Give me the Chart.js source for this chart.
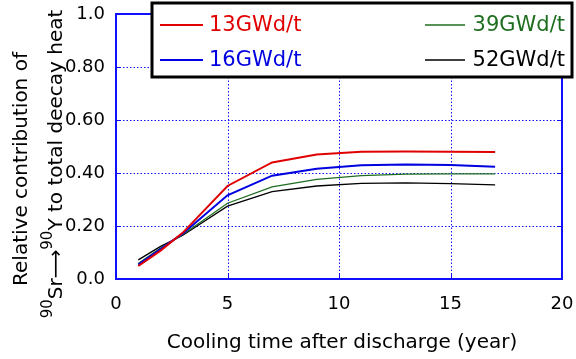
<!DOCTYPE html>
<html>
<head>
<meta charset="utf-8">
<script src="https://cdn.jsdelivr.net/npm/chart.js@4"></script>
<style>
  html, body { margin: 0; padding: 0; background: #ffffff; }
  #chart { display: block; }
</style>
</head>
<body>
<canvas id="chart" width="576" height="359"></canvas>
<script>
// Cooling time after discharge (years)
const coolingYears = [1, 2, 3, 5, 7, 9, 11, 13, 15, 17];

// Relative contribution of 90Sr->90Y to total decay heat, per burnup
const burnupLabels = ['13GWd/t', '16GWd/t', '39GWd/t', '52GWd/t'];
const burnup13 = [0.049, 0.107, 0.175, 0.351, 0.440, 0.470, 0.480, 0.481, 0.480, 0.479];
const burnup16 = [0.054, 0.113, 0.172, 0.316, 0.390, 0.416, 0.429, 0.432, 0.430, 0.424];
const burnup39 = [0.058, 0.117, 0.168, 0.286, 0.348, 0.376, 0.390, 0.396, 0.397, 0.397];
const burnup52 = [0.072, 0.123, 0.165, 0.275, 0.330, 0.351, 0.361, 0.363, 0.360, 0.355];

const yTickLabels = ['0.0', '0.20', '0.40', '0.60', '0.80', '1.0'];
const xTickLabels = ['0', '5', '10', '15', '20'];

const FONT = '"DejaVu Sans", "Liberation Sans", sans-serif';
const AXIS_BLUE = '#1010ff';

function toPoints(values) {
  return values.map((v, i) => ({ x: coolingYears[i], y: v }));
}

const seriesStyle = [
  { color: '#e00000', width: 2 },
  { color: '#0000e0', width: 2 },
  { color: '#1f6e1f', width: 1.3 },
  { color: '#000000', width: 1.3 }
];
const seriesValues = [burnup13, burnup16, burnup39, burnup52];

const datasets = seriesValues.map((vals, i) => ({
  label: burnupLabels[i],
  data: toPoints(vals),
  borderColor: seriesStyle[i].color,
  backgroundColor: seriesStyle[i].color,
  borderWidth: seriesStyle[i].width,
  pointRadius: 0,
  tension: 0,
  fill: false
}));

// Dotted grid drawn at the scale ticks, behind the curves
const dottedGrid = {
  id: 'dottedGrid',
  beforeDatasetsDraw(chart) {
    const { ctx, chartArea: a, scales } = chart;
    ctx.save();
    ctx.strokeStyle = AXIS_BLUE;
    ctx.lineWidth = 1;
    ctx.setLineDash([1.5, 2]);
    scales.y.ticks.forEach(t => {
      const py = Math.round(scales.y.getPixelForValue(t.value)) + 0.5;
      ctx.beginPath(); ctx.moveTo(a.left, py); ctx.lineTo(a.right, py); ctx.stroke();
    });
    scales.x.ticks.forEach(t => {
      const px = Math.round(scales.x.getPixelForValue(t.value)) + 0.5;
      ctx.beginPath(); ctx.moveTo(px, a.top); ctx.lineTo(px, a.bottom); ctx.stroke();
    });
    ctx.restore();
  }
};

// Frame, inward ticks, axis titles and the two-column legend
const decorations = {
  id: 'decorations',
  afterDatasetsDraw(chart) {
    const { ctx, chartArea: a, scales } = chart;
    ctx.save();

    // plot frame
    ctx.strokeStyle = AXIS_BLUE;
    ctx.lineWidth = 2;
    ctx.setLineDash([]);
    ctx.strokeRect(a.left, a.top, a.right - a.left, a.bottom - a.top);

    // small inward ticks on all four sides
    ctx.lineWidth = 1;
    const tl = 5;
    scales.y.ticks.forEach(t => {
      const py = Math.round(scales.y.getPixelForValue(t.value)) + 0.5;
      ctx.beginPath();
      ctx.moveTo(a.left, py); ctx.lineTo(a.left + tl, py);
      ctx.moveTo(a.right, py); ctx.lineTo(a.right - tl, py);
      ctx.stroke();
    });
    scales.x.ticks.forEach(t => {
      const px = Math.round(scales.x.getPixelForValue(t.value)) + 0.5;
      ctx.beginPath();
      ctx.moveTo(px, a.bottom); ctx.lineTo(px, a.bottom - tl);
      ctx.moveTo(px, a.top); ctx.lineTo(px, a.top + tl);
      ctx.stroke();
    });

    // x axis title
    ctx.fillStyle = '#000000';
    ctx.font = '20px ' + FONT;
    ctx.textAlign = 'center';
    ctx.textBaseline = 'alphabetic';
    ctx.fillText('Cooling time after discharge (year)', 342, 348);

    // y axis title, two rotated lines
    ctx.save();
    ctx.translate(27, 169);
    ctx.rotate(-Math.PI / 2);
    ctx.font = '20px ' + FONT;
    ctx.textAlign = 'center';
    ctx.fillText('Relative contribution of', 0, 0);
    ctx.restore();

    const parts = [
      { t: '90', sup: true },
      { t: 'Sr', sup: false },
      { t: '\u27F6', sup: false },
      { t: '90', sup: true },
      { t: 'Y to total deecay heat', sup: false }
    ];
    const normalFont = '20px ' + FONT;
    const supFont = '15px ' + FONT;
    let total = 0;
    parts.forEach(p => {
      ctx.font = p.sup ? supFont : normalFont;
      p.w = ctx.measureText(p.t).width;
      total += p.w;
    });
    ctx.save();
    ctx.translate(62, 164);
    ctx.rotate(-Math.PI / 2);
    ctx.textAlign = 'left';
    let cx = -total / 2;
    parts.forEach(p => {
      ctx.font = p.sup ? supFont : normalFont;
      ctx.fillText(p.t, cx, p.sup ? -10 : 0);
      cx += p.w;
    });
    ctx.restore();

    // legend box
    const box = { l: 152, t: 3, r: 572, b: 77 };
    ctx.fillStyle = '#ffffff';
    ctx.fillRect(box.l, box.t, box.r - box.l, box.b - box.t);
    ctx.strokeStyle = '#000000';
    ctx.lineWidth = 3;
    ctx.strokeRect(box.l, box.t, box.r - box.l, box.b - box.t);

    const rows = [25, 60];
    const ds = chart.data.datasets;
    ctx.font = '21px ' + FONT;
    ctx.textBaseline = 'middle';
    ds.forEach((d, i) => {
      const row = rows[i % 2];
      const col = Math.floor(i / 2);
      ctx.strokeStyle = d.borderColor;
      ctx.fillStyle = d.borderColor;
      ctx.lineWidth = col === 0 ? 2 : 1.3;
      ctx.beginPath();
      if (col === 0) {
        ctx.moveTo(160, row); ctx.lineTo(203, row);
      } else {
        ctx.moveTo(425, row); ctx.lineTo(465, row);
      }
      ctx.stroke();
      if (col === 0) {
        ctx.textAlign = 'left';
        ctx.fillText(d.label, 209, row + 1);
      } else {
        ctx.textAlign = 'right';
        ctx.fillText(d.label, 565, row + 1);
      }
    });

    ctx.restore();
  }
};

new Chart(document.getElementById('chart'), {
  type: 'line',
  data: { datasets },
  options: {
    responsive: false,
    animation: false,
    layout: { padding: { top: 14, right: 14, left: 0, bottom: 0 } },
    plugins: {
      legend: { display: false },
      tooltip: { enabled: false }
    },
    scales: {
      x: {
        type: 'linear',
        min: 0,
        max: 20,
        ticks: {
          stepSize: 5,
          padding: 7,
          color: '#000000',
          font: { family: FONT, size: 18 },
          callback: (v) => xTickLabels[v / 5]
        },
        grid: { display: false },
        border: { display: false },
        afterFit: (s) => { s.height = 80; s.paddingLeft = 0; s.paddingRight = 0; }
      },
      y: {
        min: 0,
        max: 1,
        ticks: {
          stepSize: 0.2,
          padding: 3,
          color: '#000000',
          font: { family: FONT, size: 18 },
          callback: (v) => yTickLabels[Math.round(v * 5)]
        },
        grid: { display: false },
        border: { display: false },
        afterFit: (s) => { s.width = 116; s.paddingTop = 0; s.paddingBottom = 0; }
      }
    }
  },
  plugins: [dottedGrid, decorations]
});
</script>
</body>
</html>
